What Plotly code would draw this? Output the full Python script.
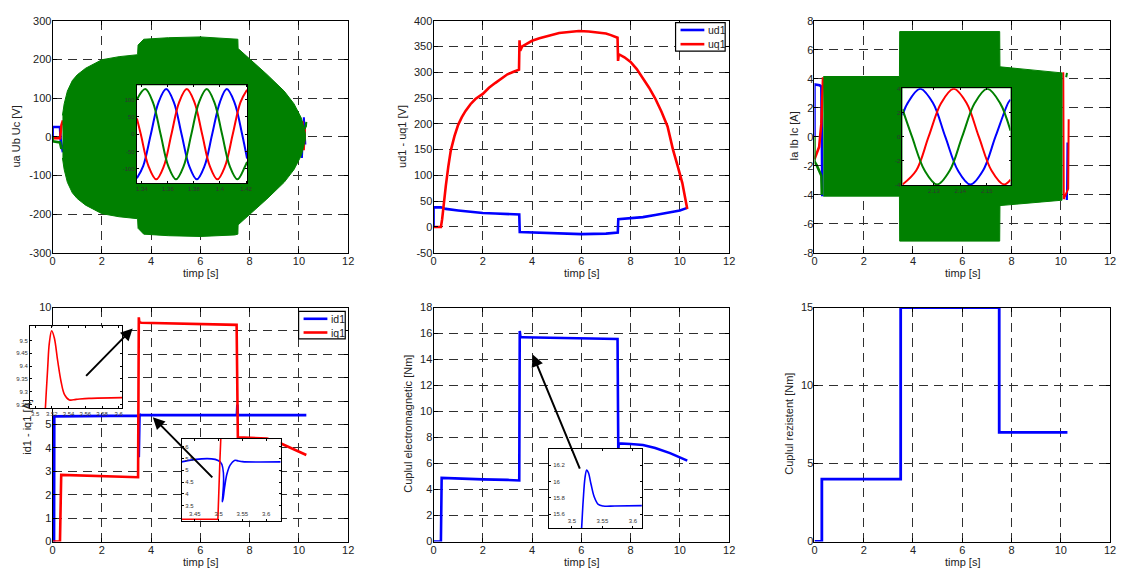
import plotly.graph_objects as go

FONT = "Liberation Sans, Arial, Helvetica, sans-serif"
BLUE, RED, GREEN = "#0000ff", "#ff0000", "#008000"
INK = "#222222"

# ---------------- shared time axis ----------------
t_ticks = [0, 2, 4, 6, 8, 10, 12]
t_labels = ["0", "2", "4", "6", "8", "10", "12"]

# ---------------- ua Ub Uc [V] ----------------
u_env_t = [0.4, 0.47, 0.6, 0.8, 1.0, 1.34, 2.0, 2.7, 3.45, 3.47, 3.7, 4.7, 6.0, 7.4, 7.52,
           7.53, 8.05, 8.7, 9.4, 9.8, 10.1, 10.26]
u_env_hi = [55, 85, 118, 145, 160, 177, 199, 207, 212, 237, 252, 256, 258, 254, 252,
            228, 199, 161, 118, 85, 48, 8]
u_env_lo = [-55, -85, -118, -145, -160, -177, -199, -207, -212, -237, -252, -256, -258, -254,
            -252, -228, -199, -161, -118, -85, -48, -8]
ua_start_t = [0, 0, 0.3, 0.33, 0.42]
ua_start = [0, 25, 25, -10, -40]
ub_start_t = [0, 0.3, 0.36, 0.42]
ub_start = [-4, -4, 30, 42]
uc_start_t = [0, 0, 0.3, 0.36]
uc_start = [0, -12, -15, -32]
ua_end_t = [10.12, 10.2, 10.26]
ua_end = [-55, 50, -20]
ub_end_t = [10.15, 10.2, 10.25]
ub_end = [40, -35, 25]
uc_end_t = [10.24, 10.3, 10.28]
uc_end = [20, 38, 25]
u_yticks = [-300, -200, -100, 0, 100, 200, 300]

# detail window 1.34 ... 1.42 s
ua_z_t = [1.3362, 1.3410, 1.3469, 1.3528, 1.3587, 1.3646, 1.3705, 1.3764, 1.3822, 1.3881,
          1.3940, 1.3999, 1.4052, 1.4111, 1.4170, 1.4208]
ua_z = [-127, -92, 0, 92, 130, 92, 0, -92, -130, -92, 0, 92, 130, 92, 0, -70]
ub_z_t = [1.3362, 1.3392, 1.3451, 1.3510, 1.3569, 1.3627, 1.3686, 1.3745, 1.3804, 1.3863,
          1.3922, 1.3980, 1.4039, 1.4098, 1.4157, 1.4208]
ub_z = [45, 0, -92, -130, -92, 0, 92, 130, 92, 0, -92, -130, -92, 0, 92, 128]
uc_z_t = [1.3362, 1.3426, 1.3485, 1.3544, 1.3603, 1.3662, 1.3721, 1.3780, 1.3839, 1.3898,
          1.3957, 1.4016, 1.4075, 1.4134, 1.4193, 1.4208]
uc_z = [100, 130, 92, 0, -92, -130, -92, 0, 92, 130, 92, 0, -92, -130, -92, -80]
uz_xticks = [1.34, 1.36, 1.38, 1.4, 1.42]
uz_xlabels = ["1.34", "1.36", "1.38", "1.4", "1.42"]
uz_yticks = [-100, -50, 0, 50, 100]

# ---------------- ud1 / uq1 [V] ----------------
ud_t = [0, 0, 0.3, 0.5, 1.0, 1.5, 2.0, 2.5, 3.0, 3.48, 3.5, 4.0, 5.0, 6.0, 7.0, 7.48, 7.5,
        8.0, 8.5, 9.0, 9.5, 10.0, 10.3]
ud = [0, 38, 38, 35, 32, 29, 27, 26, 25, 24, -10, -11, -13, -14, -13, -11, 15,
      17, 19, 23, 27, 32, 37]
uq_t = [0, 0.3, 0.35, 0.42, 0.5, 0.6, 0.7, 0.85, 1.0, 1.15, 1.3, 1.5, 1.7, 2.0, 2.25, 2.5,
        2.75, 3.0, 3.25, 3.47, 3.49, 3.52, 3.6, 3.8, 4.0, 4.3, 4.7, 5.1, 5.5, 5.9, 6.3, 6.7,
        7.0, 7.2, 7.47, 7.49, 7.52, 7.75, 8.0, 8.25, 8.5, 8.75, 9.0, 9.25, 9.5, 9.72, 9.9,
        10.1, 10.3]
uq = [0, 0, 15, 50, 80, 117, 148, 176, 198, 213, 225, 238, 248, 258, 270, 279,
      288, 296, 301, 305, 362, 342, 350, 356, 361, 366, 371, 376, 378, 380, 379, 377,
      375, 372, 367, 322, 335, 329, 320, 306, 288, 270, 249, 224, 195, 150, 120,
      85, 35]
udq_yticks = [-50, 0, 50, 100, 150, 200, 250, 300, 350, 400]

# ---------------- Ia Ib Ic [A] ----------------
i_env_t = [0.36, 3.45, 3.46, 7.52, 7.53, 8.5, 9.5, 10.05]
i_env_hi = [4.15, 4.15, 7.25, 7.25, 4.82, 4.65, 4.5, 4.4]
i_env_lo = [-4.1, -4.1, -7.2, -7.2, -4.75, -4.6, -4.45, -4.38]
ia_start_t = [0, 0, 0.21, 0.28, 0.3, 0.32]
ia_start = [0, 3.6, 3.55, 3.45, 0, -4.1]
ib_start_t = [0, 0.19, 0.28, 0.35]
ib_start = [-1.55, -0.7, 0.9, 4.1]
ic_start_t = [0, 0, 0.1, 0.28, 0.3]
ic_start = [0, -1.7, -2.0, -2.7, -4.0]
ia_end_t = [10.2, 10.25, 10.27]
ia_end = [-4.3, -4.3, -0.4]
ib_end_t = [10.1, 10.12, 10.3, 10.32]
ib_end = [4.45, -4.3, -3.6, 1.2]
ic_end_t = [10.22, 10.25]
ic_end = [4.1, 4.4]
i_yticks = [-8, -6, -4, -2, 0, 2, 4, 6, 8]

# detail window around 2.14 s
ia_z_t = [2.1181, 2.1201, 2.1248, 2.1296, 2.1343, 2.1391, 2.1438, 2.1486, 2.1533, 2.1581, 2.159]
ia_z = [1.8, 2.83, 4, 2.83, 0, -2.83, -4, -2.83, 0, 2.83, 3.1]
ib_z_t = [2.1181, 2.1233, 2.1280, 2.1328, 2.1375, 2.1423, 2.1470, 2.1518, 2.1565, 2.159]
ib_z = [-4, -2.83, 0, 2.83, 4, 2.83, 0, -2.83, -4, -3.6]
ic_z_t = [2.1181, 2.1217, 2.1265, 2.1312, 2.1360, 2.1407, 2.1455, 2.1502, 2.1550, 2.159]
ic_z = [2.3, 0, -2.83, -4, -2.83, 0, 2.83, 4, 2.83, 0.5]
iz_xticks = [2.13, 2.14, 2.15]
iz_yticks = [-4, -2, 0, 2, 4]

# ---------------- id1 / iq1 [A] ----------------
id_t = [0, 0.06, 0.07, 3.49, 3.5, 3.51, 3.53, 3.56, 7.48, 7.5, 7.52, 7.6, 10.3]
id_v = [0, 0, 5.35, 5.38, 3.6, 5.3, 5.45, 5.4, 5.4, 5.85, 5.4, 5.4, 5.4]
iq_t = [0, 0.3, 0.35, 1.0, 2.0, 3.0, 3.47, 3.5, 3.52, 3.6, 5.0, 7.0, 7.47, 7.52, 8.0, 8.7,
        9.25, 9.8, 10.3]
iq_v = [0, 0, 2.85, 2.83, 2.79, 2.76, 2.75, 9.58, 9.37, 9.35, 9.32, 9.28, 9.26, 4.45, 4.44,
        4.4, 4.2, 3.92, 3.7]
idq_yticks = [0, 1, 2, 3, 4, 5, 6, 7, 8, 9, 10]

# iq1 overshoot after the load step
iq_z_t = [3.5105, 3.5123, 3.515, 3.517, 3.5198, 3.523, 3.527, 3.531, 3.535, 3.541, 3.549,
          3.5644, 3.604]
iq_z = [9.1, 9.236, 9.39, 9.49, 9.538, 9.51, 9.42, 9.34, 9.29, 9.268, 9.27, 9.274, 9.277]
iqz_xticks = [3.5, 3.52, 3.54, 3.56, 3.58, 3.6]
iqz_yticks = [9.25, 9.3, 9.35, 9.4, 9.45, 9.5]
iqz_ylabels = ["9.25", "9.3", "9.35", "9.4", "9.45", "9.5"]

# id1 dip at the load step
id_z_t = [3.4222, 3.5035, 3.5083, 3.5125, 3.5174, 3.5243, 3.5333, 3.5417, 3.55, 3.6306]
id_z = [5.36, 5.36, 3.67, 4.25, 4.83, 5.22, 5.42, 5.40, 5.37, 5.36]
iq_z2_t = [3.4222, 3.4986, 3.503, 3.506]
iq_z2 = [2.92, 2.92, 5.5, 7.0]
idz_xticks = [3.45, 3.5, 3.55, 3.6]
idz_yticks = [3, 3.5, 4, 4.5, 5, 5.5, 6]

# ---------------- Cuplul electromagnetic [Nm] ----------------
te_t = [0, 0.3, 0.33, 1.0, 2.0, 3.0, 3.48, 3.5, 3.53, 3.6, 5.0, 6.5, 7.47, 7.5, 7.52, 8.0,
        8.5, 9.0, 9.6, 10.3]
te_v = [0, 0, 4.9, 4.83, 4.78, 4.74, 4.7, 16.2, 15.72, 15.72, 15.68, 15.62, 15.58, 7.0, 7.55,
        7.5, 7.42, 7.2, 6.8, 6.22]
te_yticks = [0, 2, 4, 6, 8, 10, 12, 14, 16, 18]

te_z_t = [3.514, 3.516, 3.5186, 3.5216, 3.5243, 3.527, 3.5313, 3.5367, 3.5432, 3.5514, 3.5703,
          3.6146]
te_z = [15.2, 15.43, 15.77, 16.05, 16.14, 16.11, 15.97, 15.81, 15.72, 15.70, 15.70, 15.705]
tez_xticks = [3.5, 3.55, 3.6]
tez_yticks = [15.6, 15.8, 16, 16.2]
tez_ylabels = ["15.6", "15.8", "16", "16.2"]

# ---------------- Cuplul rezistent [Nm] ----------------
tr_t = [0, 0.3, 0.3, 3.5, 3.5, 7.5, 7.5, 10.27]
tr_v = [0, 0, 4, 4, 15, 15, 7, 7]
tr_yticks = [0, 5, 10, 15]

# ---------------- layout geometry (paper fractions) ----------------
COLS = [[0.04448, 0.30961], [0.38612, 0.65125], [0.72776, 0.99288]]
ROWS = [[0.55944, 0.97378], [0.04371, 0.46154]]
W, H = 1124, 572


def fmt(v):
    return "%g" % v


def px(x, y):
    return x / W, 1 - y / H


def main_axes(xdom, ydom, yrange, yticks, n):
    tick = dict(size=11, color=INK, family=FONT)
    common = dict(ticks="inside", ticklen=4, tickcolor="black", tickwidth=1,
                  showline=True, linecolor="black", linewidth=1, mirror="ticks",
                  showgrid=True, gridcolor="#303030", gridwidth=1, griddash="9px,6px",
                  zeroline=False, tickfont=tick, fixedrange=True, ticklabelstandoff=-2)
    ax_id = "" if n == 1 else str(n)
    xa = dict(domain=xdom, range=[0, 12], tickmode="array", tickvals=t_ticks,
              ticktext=t_labels, anchor="y" + ax_id, **common)
    ya = dict(domain=ydom, range=yrange, tickmode="array", tickvals=yticks,
              ticktext=[fmt(v) for v in yticks], anchor="x" + ax_id, **common)
    return xa, ya


def inset_axes(xdom, ydom, xrange, yrange, xticks, xlabels, yticks, ylabels, n, inside):
    tick = dict(size=6, color="#333333", family=FONT)
    common = dict(ticks="inside", ticklen=2, tickcolor="black", tickwidth=1,
                  showline=True, linecolor="black", linewidth=1, mirror="ticks",
                  showgrid=False, zeroline=False, tickfont=tick, fixedrange=True)
    pos = "inside" if inside else "outside"
    xa = dict(domain=xdom, range=xrange, tickmode="array", tickvals=xticks, ticktext=xlabels,
              anchor="y%d" % n, ticklabelposition=pos, **common)
    ya = dict(domain=ydom, range=yrange, tickmode="array", tickvals=yticks, ticktext=ylabels,
              anchor="x%d" % n, ticklabelposition=pos, **common)
    return xa, ya


layout = {}
# main panels: n -> (col, row, yrange, yticks)
panels = {
    3: (0, 0, [-300, 300], u_yticks),
    4: (1, 0, [-50, 400], udq_yticks),
    5: (2, 0, [-8, 8], i_yticks),
    1: (0, 1, [0, 10], idq_yticks),
    2: (1, 1, [0, 18], te_yticks),
    6: (2, 1, [0, 15], tr_yticks),
}
for n, (c, r, yr, yt) in panels.items():
    xa, ya = main_axes(COLS[c], ROWS[r], yr, yt, n)
    key = "" if n == 1 else str(n)
    layout["xaxis" + key] = xa
    layout["yaxis" + key] = ya

insets = {
    8: ([0.1201, 0.2189], [0.6836, 0.8584], [1.3362, 1.4208], [-141, 141],
        uz_xticks, uz_xlabels, uz_yticks, [fmt(v) for v in uz_yticks], False),
    9: ([0.8067, 0.9036], [0.6801, 0.8531], [2.1181, 2.159], [-4.05, 4.05],
        iz_xticks, [fmt(v) for v in iz_xticks], iz_yticks, [fmt(v) for v in iz_yticks], False),
    10: ([0.0243, 0.1068], [0.2820, 0.4278], [3.494, 3.604], [9.236, 9.555],
         iqz_xticks, [fmt(v) for v in iqz_xticks], iqz_yticks, iqz_ylabels, False),
    11: ([0.1601, 0.2491], [0.0810, 0.2267], [3.4222, 3.6306], [2.86, 6.33],
         idz_xticks, [fmt(v) for v in idz_xticks], idz_yticks, [fmt(v) for v in idz_yticks], True),
    7: ([0.4900, 0.5730], [0.0677, 0.2093], [3.4632, 3.6146], [15.43, 16.4],
        tez_xticks, [fmt(v) for v in tez_xticks], tez_yticks, tez_ylabels, True),
}
for n, args in insets.items():
    xa, ya = inset_axes(*args[:8], n, args[8])
    layout["xaxis%d" % n] = xa
    layout["yaxis%d" % n] = ya

fig = go.Figure()


def ax_pair(n):
    return ("x", "y") if n == 1 else ("x%d" % n, "y%d" % n)


def line(t, v, color, n, width=2.6, name=None, spline=False):
    xa, ya = ax_pair(n)
    fig.add_trace(go.Scatter(
        x=t, y=v, mode="lines", xaxis=xa, yaxis=ya,
        line=dict(color=color, width=width, shape="spline" if spline else "linear",
                  smoothing=1.0 if spline else None),
        name=name, showlegend=False, hoverinfo="skip"))


def band(t, hi, lo, n):
    xa, ya = ax_pair(n)
    fig.add_trace(go.Scatter(
        x=list(t) + list(t)[::-1], y=list(hi) + list(lo)[::-1], mode="lines",
        fill="toself", fillcolor=GREEN, line=dict(color=GREEN, width=1),
        xaxis=xa, yaxis=ya, showlegend=False, hoverinfo="skip"))


# id1 / iq1 (subplot 1)
line(id_t, id_v, BLUE, 1, name="id1")
line(iq_t, iq_v, RED, 1, name="iq1")
# electromagnetic torque (subplot 2)
line(te_t, te_v, BLUE, 2)
# phase voltages (subplot 3)
line(ua_start_t, ua_start, BLUE, 3)
line(ub_start_t, ub_start, RED, 3)
line(uc_start_t, uc_start, GREEN, 3)
line(ua_end_t, ua_end, BLUE, 3, width=2)
line(ub_end_t, ub_end, RED, 3, width=2)
line(uc_end_t, uc_end, GREEN, 3, width=2)
band(u_env_t, u_env_hi, u_env_lo, 3)
# ud1 / uq1 (subplot 4)
line(ud_t, ud, BLUE, 4, name="ud1")
line(uq_t, uq, RED, 4, name="uq1")
# phase currents (subplot 5)
line(ia_start_t, ia_start, BLUE, 5)
line(ib_start_t, ib_start, RED, 5)
line(ic_start_t, ic_start, GREEN, 5)
line(ia_end_t, ia_end, BLUE, 5, width=2)
line(ib_end_t, ib_end, RED, 5, width=2)
line(ic_end_t, ic_end, GREEN, 5, width=2)
band(i_env_t, i_env_hi, i_env_lo, 5)
# load torque (subplot 6)
line(tr_t, tr_v, BLUE, 6, width=2.8)

# detail windows
line(te_z_t, te_z, BLUE, 7, width=1.6, spline=True)
line(ua_z_t, ua_z, BLUE, 8, width=2, spline=True)
line(ub_z_t, ub_z, RED, 8, width=2, spline=True)
line(uc_z_t, uc_z, GREEN, 8, width=2, spline=True)
line(ia_z_t, ia_z, BLUE, 9, width=2, spline=True)
line(ib_z_t, ib_z, RED, 9, width=2, spline=True)
line(ic_z_t, ic_z, GREEN, 9, width=2, spline=True)
line(iq_z_t, iq_z, RED, 10, width=1.6, spline=True)
line(id_z_t, id_z, BLUE, 11, width=1.6, spline=True)
line(iq_z2_t, iq_z2, RED, 11, width=1.6)

annotations = []
shapes = []
title_font = dict(size=11, color=INK, family=FONT)
for cx in (199, 583, 967):
    x, _ = px(cx, 0)
    annotations.append(dict(text="timp [s]", x=x, y=1 - 281 / H, xref="paper", yref="paper",
                            showarrow=False, font=title_font,
                            xanchor="center", yanchor="bottom"))
    annotations.append(dict(text="timp [s]", x=x, y=0, xref="paper", yref="paper",
                            showarrow=False, font=title_font, yshift=-4,
                            xanchor="center", yanchor="bottom"))
ytitles = [("ua Ub Uc [V]", 13.5, 133), ("ud1 - uq1 [V]", 402, 133),
           ("Ia Ib Ic [A]", 798, 133), ("id1 - iq1 [A]", 24, 430),
           ("Cuplul electromagnetic [Nm]", 408, 427), ("Cuplul rezistent [Nm]", 792, 427)]
for txt, cx, cy in ytitles:
    x, y = px(cx, cy)
    annotations.append(dict(text=txt, x=x, y=y, xref="paper", yref="paper", showarrow=False,
                            font=title_font, textangle=-90,
                            xanchor="center", yanchor="middle"))

# pointer arrows from the detail windows
for tip, tail in [((130.7, 329.3), (82.7, 378.3)), ((151, 420), (212, 481.7)),
                  ((534, 356), (581.7, 471.7))]:
    x, y = px(*tip)
    annotations.append(dict(text="", x=x, y=y, xref="paper", yref="paper", showarrow=True,
                            ax=tail[0] - tip[0], ay=tail[1] - tip[1], arrowhead=2,
                            arrowsize=1.2, arrowwidth=2, arrowcolor="black", standoff=0))


def legend_box(box, rows, entries):
    """Boxed legend: box = (x0, y0, x1, y1) in pixels, rows = y of each entry."""
    x0, y0, x1, y1 = box
    a0, b0 = px(x0, y0)
    a1, b1 = px(x1, y1)
    shapes.append(dict(type="rect", xref="paper", yref="paper", x0=a0, x1=a1, y0=b1, y1=b0,
                       line=dict(color="black", width=1.2), fillcolor="white", layer="above"))
    for (label, color), ry in zip(entries, rows):
        la, lb = px(x0 + 5, ry)
        lc, _ = px(x0 + 29, ry)
        shapes.append(dict(type="line", xref="paper", yref="paper", x0=la, x1=lc, y0=lb, y1=lb,
                           line=dict(color=color, width=2.6), layer="above"))
        tx, ty = px(x0 + 31, ry)
        annotations.append(dict(text=label, x=tx, y=ty, xref="paper", yref="paper",
                                showarrow=False, font=dict(size=10.5, color=INK, family=FONT),
                                xanchor="left", yanchor="middle"))


legend_box((678, 17, 728, 46), (24.5, 39), [("ud1", BLUE), ("uq1", RED)])
legend_box((298, 312, 345, 340), (319.5, 333.5), [("id1", BLUE), ("iq1", RED)])

fig.update_layout(
    width=W, height=H, margin=dict(l=0, r=0, t=0, b=0),
    paper_bgcolor="white", plot_bgcolor="white",
    font=dict(family=FONT, size=11, color=INK),
    annotations=annotations, shapes=shapes, showlegend=False,
    **layout,
)

fig.write_html("out.html")
